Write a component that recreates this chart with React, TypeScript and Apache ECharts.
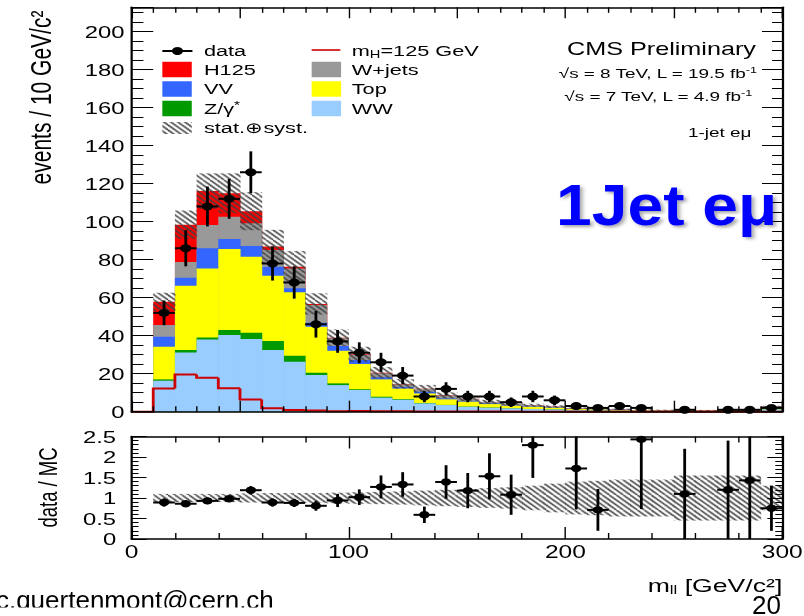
import React, { useEffect, useRef } from "react";
import * as echarts from "echarts";

// ---------- data ----------
const binLow = [10, 20, 30, 40, 50, 60, 70, 80, 90, 100, 110, 120, 130, 140, 150, 160, 170, 180, 190, 200, 210, 220, 230, 240, 250, 260, 270, 280, 290];
const binHigh = [20, 30, 40, 50, 60, 70, 80, 90, 100, 110, 120, 130, 140, 150, 160, 170, 180, 190, 200, 210, 220, 230, 240, 250, 260, 270, 280, 290, 300];

const ww = [16.3, 31.2, 38.0, 40.4, 38.2, 32.5, 26.3, 19.3, 14.0, 11.4, 7.4, 6.3, 4.4, 3.5, 2.6, 2.1, 1.75, 1.4, 1.2, 0.8, 0.7, 0.6, 0.45, 0.4, 0.45, 0.35, 0.4, 0.3, 1.2];
const zgamma = [0.7, 1.3, 1.1, 2.6, 3.4, 4.7, 3.2, 1.2, 0.9, 0.4, 0.5, 0.3, 0.2, 0.1, 0.1, 0.1, 0.05, 0.05, 0.05, 0, 0, 0, 0, 0, 0, 0, 0, 0, 0];
const top = [17.2, 33.8, 36.3, 42.6, 40.0, 34.4, 33.3, 24.2, 17.2, 13.3, 9.1, 5.6, 5.0, 2.9, 2.6, 1.8, 1.4, 1.15, 0.85, 0.6, 0.5, 0.35, 0.25, 0.2, 0.3, 0.2, 0.3, 0.25, 0.9];
const vv = [5.3, 4.2, 10.6, 5.3, 5.6, 4.7, 2.1, 2.1, 2.5, 2.1, 1.1, 0.8, 0.9, 0.5, 0.4, 0.4, 0.3, 0.3, 0.2, 0.15, 0.1, 0.1, 0.05, 0.05, 0.05, 0.05, 0.05, 0.05, 0.2];
const wjets = [6.1, 8.3, 12.2, 11.7, 11.9, 8.8, 10.5, 9.3, 4.0, 2.6, 2.1, 1.4, 1.5, 1.5, 1.0, 0.7, 0.6, 0.5, 0.4, 0.2, 0.2, 0.15, 0.1, 0.1, 0.1, 0.05, 0.1, 0.1, 0.4];
const h125 = [12.2, 19.6, 17.9, 12.3, 6.4, 1.8, 0.9, 0.6, 0.3, 0.4, 0.3, 0.2, 0.1, 0.1, 0.1, 0.05, 0.05, 0, 0, 0, 0, 0, 0, 0, 0, 0, 0, 0, 0];

const mcErr = [4.8, 7.5, 9.3, 10.5, 10, 8.8, 8.2, 5.6, 4.4, 4, 3, 2.5, 2, 1.6, 1.3, 1.1, 0.9, 0.8, 0.7, 0.5, 0.5, 0.4, 0.4, 0.3, 0.3, 0.3, 0.3, 0.3, 0.4];

const dataCounts = [52, 86, 108, 112, 126, 78, 68, 46, 37, 31, 26, 19, 8, 12, 8, 8, 5, 8, 6, 3, 2, 3, 2, 0, 1, 0, 1, 1, 2];
const dataErr = [6.5, 9.5, 10.5, 10.5, 11, 9, 8.5, 7, 6, 5.5, 5, 4.5, 3, 3.5, 3, 3, 2.5, 3, 2.5, 2, 1.5, 2, 1.5, 0, 1, 0, 1, 1, 1.5];

const ratio = [0.89, 0.86, 0.93, 0.98, 1.19, 0.89, 0.88, 0.81, 0.94, 1.02, 1.27, 1.33, 0.59, 1.39, 1.18, 1.53, 1.08, 2.29, null, 1.72, 0.71, null, 2.43, null, 1.1, null, 1.2, 1.43, 0.75];
const ratioErr = [0.1, 0.08, 0.08, 0.08, 0.1, 0.1, 0.1, 0.12, 0.16, 0.19, 0.28, 0.3, 0.2, 0.41, 0.43, 0.56, 0.49, 0.8, null, 1.0, 0.51, null, 1.7, null, 1.1, null, 1.2, 1.43, 0.55];
const ratioBand = [0.1, 0.1, 0.1, 0.1, 0.11, 0.12, 0.12, 0.12, 0.13, 0.14, 0.15, 0.16, 0.18, 0.2, 0.22, 0.24, 0.26, 0.3, 0.35, 0.4, 0.42, 0.45, 0.45, 0.45, 0.55, 0.55, 0.55, 0.55, 0.3];

// ---------- look ----------
const SX = 1.4007; // horizontal stretch of the original picture
const FONT = '"Liberation Sans", Arial, Helvetica, sans-serif';
const HT = 15; // hatch tile size
const layers = [
  { name: "WW", values: ww, color: "#99ccff" },
  { name: "Z/γ*", values: zgamma, color: "#009900" },
  { name: "Top", values: top, color: "#ffff00" },
  { name: "VV", values: vv, color: "#3366ff" },
  { name: "W+jets", values: wjets, color: "#999999" },
  { name: "H125", values: h125, color: "#ff0000" },
];

function makeHatch(): string {
  const T = HT;
  const c = document.createElement("canvas");
  c.width = T;
  c.height = T;
  const ctx = c.getContext("2d")!;
  ctx.strokeStyle = "#404040";
  ctx.lineWidth = 1.3;
  for (let k = -3; k <= 3; k++) {
    const x0 = (k * T) / 3;
    ctx.beginPath();
    ctx.moveTo(x0, 0);
    ctx.lineTo(x0 + T, T);
    ctx.stroke();
  }
  return c.toDataURL();
}

export default function App() {
  const ref = useRef<HTMLDivElement>(null);

  useEffect(() => {
    const el = ref.current!;
    const chart = echarts.init(el, null, { renderer: "svg" });
    const pattern: any = { image: makeHatch(), repeat: "repeat", imageWidth: HT, imageHeight: HT };

    // cumulative stacks
    const cum: number[][] = [];
    layers.forEach((l, j) => {
      cum.push(l.values.map((v, i) => v + (j > 0 ? cum[j - 1][i] : 0)));
    });
    const total = cum[cum.length - 1];

    const rectRender = (fill: any) => (params: any, api: any) => {
      const a = api.coord([api.value(0), api.value(3)]);
      const b = api.coord([api.value(1), api.value(2)]);
      return {
        type: "rect",
        shape: { x: a[0], y: a[1], width: b[0] - a[0] + 0.4, height: b[1] - a[1] },
        style: { fill },
      };
    };

    const stackSeries = layers
      .map((l, j) => ({
        type: "custom",
        name: l.name,
        xAxisIndex: 0,
        yAxisIndex: 0,
        silent: true,
        encode: { x: [0, 1], y: [2, 3] },
        data: binLow.map((lo, i) => [lo, binHigh[i], 0, cum[j][i]]),
        renderItem: rectRender(l.color),
      }))
      .reverse();

    const bandSeries = {
      type: "custom",
      name: "stat.⊕syst.",
      xAxisIndex: 0,
      yAxisIndex: 0,
      silent: true,
      encode: { x: [0, 1], y: [2, 3] },
      data: binLow.map((lo, i) => [lo, binHigh[i], Math.max(0, total[i] - mcErr[i]), total[i] + mcErr[i]]),
      renderItem: rectRender(pattern),
    };

    const signalSeries = {
      type: "custom",
      name: "mH=125 GeV",
      xAxisIndex: 0,
      yAxisIndex: 0,
      silent: true,
      encode: { x: [0, 1], y: [2] },
      data: binLow.map((lo, i) => [lo, binHigh[i], h125[i], i > 0 ? h125[i - 1] : 0]),
      renderItem: (params: any, api: any) => {
        const lo = api.value(0), hi = api.value(1), v = api.value(2), prev = api.value(3);
        const pts: number[][] = [];
        if (params.dataIndex === 0) pts.push(api.coord([0, 0]));
        pts.push(api.coord([lo, prev]), api.coord([lo, v]), api.coord([hi, v]));
        return {
          type: "polyline",
          shape: { points: pts },
          style: { stroke: "#cc0000", lineWidth: 2, fill: "none" },
        };
      },
    };

    const pointRender = (yMax: number, r: number) => (params: any, api: any) => {
      const lo = api.value(0), hi = api.value(1), v = api.value(2), e = api.value(3);
      const mid = (lo + hi) / 2;
      const c = api.coord([mid, v]);
      const a = api.coord([lo, v]);
      const b = api.coord([hi, v]);
      const t = api.coord([mid, Math.min(yMax, v + e)]);
      const d = api.coord([mid, Math.max(0, v - e)]);
      return {
        type: "group",
        children: [
          { type: "line", shape: { x1: a[0], y1: a[1], x2: b[0], y2: b[1] }, style: { stroke: "#000", lineWidth: 2 } },
          { type: "line", shape: { x1: c[0], y1: t[1], x2: c[0], y2: d[1] }, style: { stroke: "#000", lineWidth: 2 } },
          { type: "circle", shape: { cx: c[0], cy: c[1], r }, style: { fill: "#000" } },
        ],
      };
    };

    const dataSeries = {
      type: "custom",
      name: "data",
      xAxisIndex: 0,
      yAxisIndex: 0,
      silent: true,
      encode: { x: [0, 1], y: [2] },
      data: binLow
        .map((lo, i) => [lo, binHigh[i], dataCounts[i], dataErr[i]])
        .filter((d) => d[2] > 0),
      renderItem: pointRender(1000, 4),
    };

    const ratioBandSeries = {
      type: "custom",
      name: "ratio band",
      xAxisIndex: 2,
      yAxisIndex: 2,
      silent: true,
      encode: { x: [0, 1], y: [2, 3] },
      data: binLow.map((lo, i) => [lo, binHigh[i], 1 - ratioBand[i], 1 + ratioBand[i]]),
      renderItem: rectRender(pattern),
    };

    const ratioSeries = {
      type: "custom",
      name: "data / MC",
      xAxisIndex: 2,
      yAxisIndex: 2,
      silent: true,
      encode: { x: [0, 1], y: [2] },
      data: binLow
        .map((lo, i) => [lo, binHigh[i], ratio[i], ratioErr[i]])
        .filter((d) => d[2] !== null),
      renderItem: pointRender(2.5, 3.7),
    };

    const axisLine = { show: true, onZero: false, lineStyle: { color: "#000", width: 1.6 } };
    const tickStyle = { color: "#000", width: 1 };
    const xBase = (grid: number, position: string, interval: number, majorLen: number, minorLen: number, labels: boolean) => ({
      type: "value",
      gridIndex: grid,
      position,
      min: 0,
      max: 300,
      interval,
      z: 10,
      axisLine,
      splitLine: { show: false },
      axisTick: { show: true, inside: true, length: majorLen, lineStyle: tickStyle },
      minorTick: { show: true, splitNumber: 5, length: minorLen, lineStyle: tickStyle },
      axisLabel: { show: labels, fontSize: 17.5, color: "#000", fontFamily: FONT, margin: 4 },
    });
    const yBase = (grid: number, position: string, max: number, interval: number, split: number, majorLen: number, minorLen: number, labels: boolean, margin: number) => ({
      type: "value",
      gridIndex: grid,
      position,
      min: 0,
      max,
      interval,
      z: 10,
      axisLine,
      splitLine: { show: false },
      axisTick: { show: true, inside: true, length: majorLen, lineStyle: tickStyle },
      minorTick: { show: true, splitNumber: split, length: minorLen, lineStyle: tickStyle },
      axisLabel: { show: labels, fontSize: 17, color: "#000", fontFamily: FONT, margin, showMaxLabel: max === 2.5 },
    });

    // ---------- legend & annotations (graphic) ----------
    const txt = (x: number, y: number, text: string, fontSize: number, extra: any = {}) => ({
      type: "text",
      x,
      y,
      z: 50,
      style: { text, fontSize, fontFamily: FONT, fill: "#000", align: "left", verticalAlign: "middle", ...extra },
    });
    const legRect = (x: number, yc: number, fill: any, h = 15.5) => ({
      type: "rect",
      z: 50,
      shape: { x, y: yc - h / 2, width: 21, height: h },
      style: { fill },
    });
    const c1 = 115.9, c1t = 145.6, c2 = 222.5, c2t = 251.1;
    const rows = [51, 69.5, 89, 108.5, 128];

    const graphic: any[] = [
      // column 1
      { type: "line", z: 50, shape: { x1: c1, y1: rows[0], x2: c1 + 21.5, y2: rows[0] }, style: { stroke: "#000", lineWidth: 2 } },
      { type: "circle", z: 50, shape: { cx: c1 + 10.8, cy: rows[0], r: 4 }, style: { fill: "#000" } },
      txt(c1t, rows[0], "data", 15.5),
      legRect(c1, rows[1], "#ff0000"),
      txt(c1t, rows[1], "H125", 15.5),
      legRect(c1, rows[2], "#3366ff"),
      txt(c1t, rows[2], "VV", 15.5),
      legRect(c1, rows[3], "#009900"),
      txt(c1t, rows[3], "{a|Z/γ}{s|*}", 15.5, {
        rich: { a: { fontSize: 15.5, fontFamily: FONT, fill: "#000" }, s: { fontSize: 11, fontFamily: FONT, fill: "#000", padding: [0, 0, 6, 0] } },
      }),
      legRect(c1, rows[4], pattern, 12),
      txt(c1t, rows[4], "stat.⊕syst.", 15.5),
      // column 2
      { type: "line", z: 50, shape: { x1: c2, y1: rows[0] - 1, x2: c2 + 20.5, y2: rows[0] - 1 }, style: { stroke: "#cc0000", lineWidth: 1.6 } },
      txt(c2t, rows[0], "{a|m}{b|H}{a|=125 GeV}", 15.5, {
        rich: { a: { fontSize: 15.5, fontFamily: FONT, fill: "#000" }, b: { fontSize: 10.5, fontFamily: FONT, fill: "#000", padding: [7, 0, 0, 0] } },
      }),
      legRect(c2, rows[1], "#999999"),
      txt(c2t, rows[1], "W+jets", 15.5),
      legRect(c2, rows[2], "#ffff00"),
      txt(c2t, rows[2], "Top", 15.5),
      legRect(c2, rows[3], "#99ccff"),
      txt(c2t, rows[3], "WW", 15.5),
      // right-hand labels
      txt(539.7, 48.5, "CMS Preliminary", 18, { align: "right" }),
      txt(540.5, 73, "{n|√s = 8 TeV, L = 19.5 fb}{s|-1}", 13.5, {
        align: "right",
        rich: { n: { fontSize: 13.5, fontFamily: FONT, fill: "#000" }, s: { fontSize: 9, fontFamily: FONT, fill: "#000", padding: [0, 0, 7, 0] } },
      }),
      txt(537, 96.5, "{n|√s = 7 TeV, L = 4.9 fb}{s|-1}", 13.5, {
        align: "right",
        rich: { n: { fontSize: 13.5, fontFamily: FONT, fill: "#000" }, s: { fontSize: 9, fontFamily: FONT, fill: "#000", padding: [0, 0, 7, 0] } },
      }),
      txt(536.4, 132, "1-jet eμ", 13.5, { align: "right" }),
      // axis titles
      {
        type: "text",
        x: 29.3,
        y: 97.5,
        rotation: Math.PI / 2,
        z: 50,
        style: { text: "events / 10 GeV/c²", fontSize: 21, fontFamily: FONT, fill: "#000", align: "center", verticalAlign: "middle" },
      },
      {
        type: "text",
        x: 34.6,
        y: 487.5,
        rotation: Math.PI / 2,
        z: 50,
        style: { text: "data / MC", fontSize: 18.5, fontFamily: FONT, fill: "#000", align: "center", verticalAlign: "middle" },
      },
      txt(558.5, 585, "{a|m}{b|ll}{a| [GeV/c²]}", 19, {
        align: "right",
        rich: { a: { fontSize: 19, fontFamily: FONT, fill: "#000" }, b: { fontSize: 12, fontFamily: FONT, fill: "#000", padding: [10, 0, 0, 0] } },
      }),
      // slide overlays (not stretched)
      {
        type: "text",
        x: 397,
        y: 205,
        scaleX: 0.79,
        z: 60,
        style: {
          text: "1Jet eμ",
          fontSize: 58,
          fontWeight: "bold",
          fontFamily: FONT,
          fill: "#0000ff",
          align: "left",
          verticalAlign: "middle",
          textShadowColor: "rgba(0,0,0,0.35)",
          textShadowBlur: 3,
          textShadowOffsetX: 2,
          textShadowOffsetY: 2,
        },
      },
      {
        type: "text",
        x: -2.9,
        y: 600,
        scaleX: 1 / SX,
        z: 60,
        style: { text: "c.quertenmont@cern.ch", fontSize: 26, fontFamily: FONT, fill: "#000", align: "left", verticalAlign: "middle" },
      },
      { type: "rect", z: 61, shape: { x: -5, y: 607.5, width: 215, height: 10 }, style: { fill: "#fff" } },
      {
        type: "text",
        x: 536.9,
        y: 605,
        scaleX: 1 / SX,
        z: 60,
        style: { text: "20", fontSize: 26, fontFamily: FONT, fill: "#000", align: "left", verticalAlign: "middle" },
      },
    ];

    const option: any = {
      animation: false,
      backgroundColor: "#fff",
      textStyle: { fontFamily: FONT },
      grid: [
        { left: 93.9, top: 7.3, width: 464.6, height: 404.4, outerBoundsMode: "none" },
        { left: 93.9, top: 436.5, width: 464.6, height: 102.5, outerBoundsMode: "none" },
      ],
      xAxis: [
        xBase(0, "bottom", 50, 11, 5.5, false),
        xBase(0, "top", 50, 11, 5.5, false),
        xBase(1, "bottom", 100, 12, 6, true),
        xBase(1, "top", 100, 12, 6, false),
      ],
      yAxis: [
        yBase(0, "left", 212.8, 20, 4, 15.5, 8.5, true, 5),
        yBase(0, "right", 212.8, 20, 4, 14.5, 7.3, false, 5),
        yBase(1, "left", 2.5, 0.5, 5, 10.7, 5, true, 11),
        yBase(1, "right", 2.5, 0.5, 5, 10.7, 5, false, 11),
      ],
      series: [...stackSeries, bandSeries, signalSeries, dataSeries, ratioBandSeries, ratioSeries],
      graphic,
    };

    chart.setOption(option);
    return () => chart.dispose();
  }, []);

  return (
    <div
      ref={ref}
      style={{
        position: "fixed",
        left: 0,
        top: 0,
        width: 574,
        height: 616,
        transform: `scaleX(${SX})`,
        transformOrigin: "0 0",
        background: "#fff",
      }}
    />
  );
}
